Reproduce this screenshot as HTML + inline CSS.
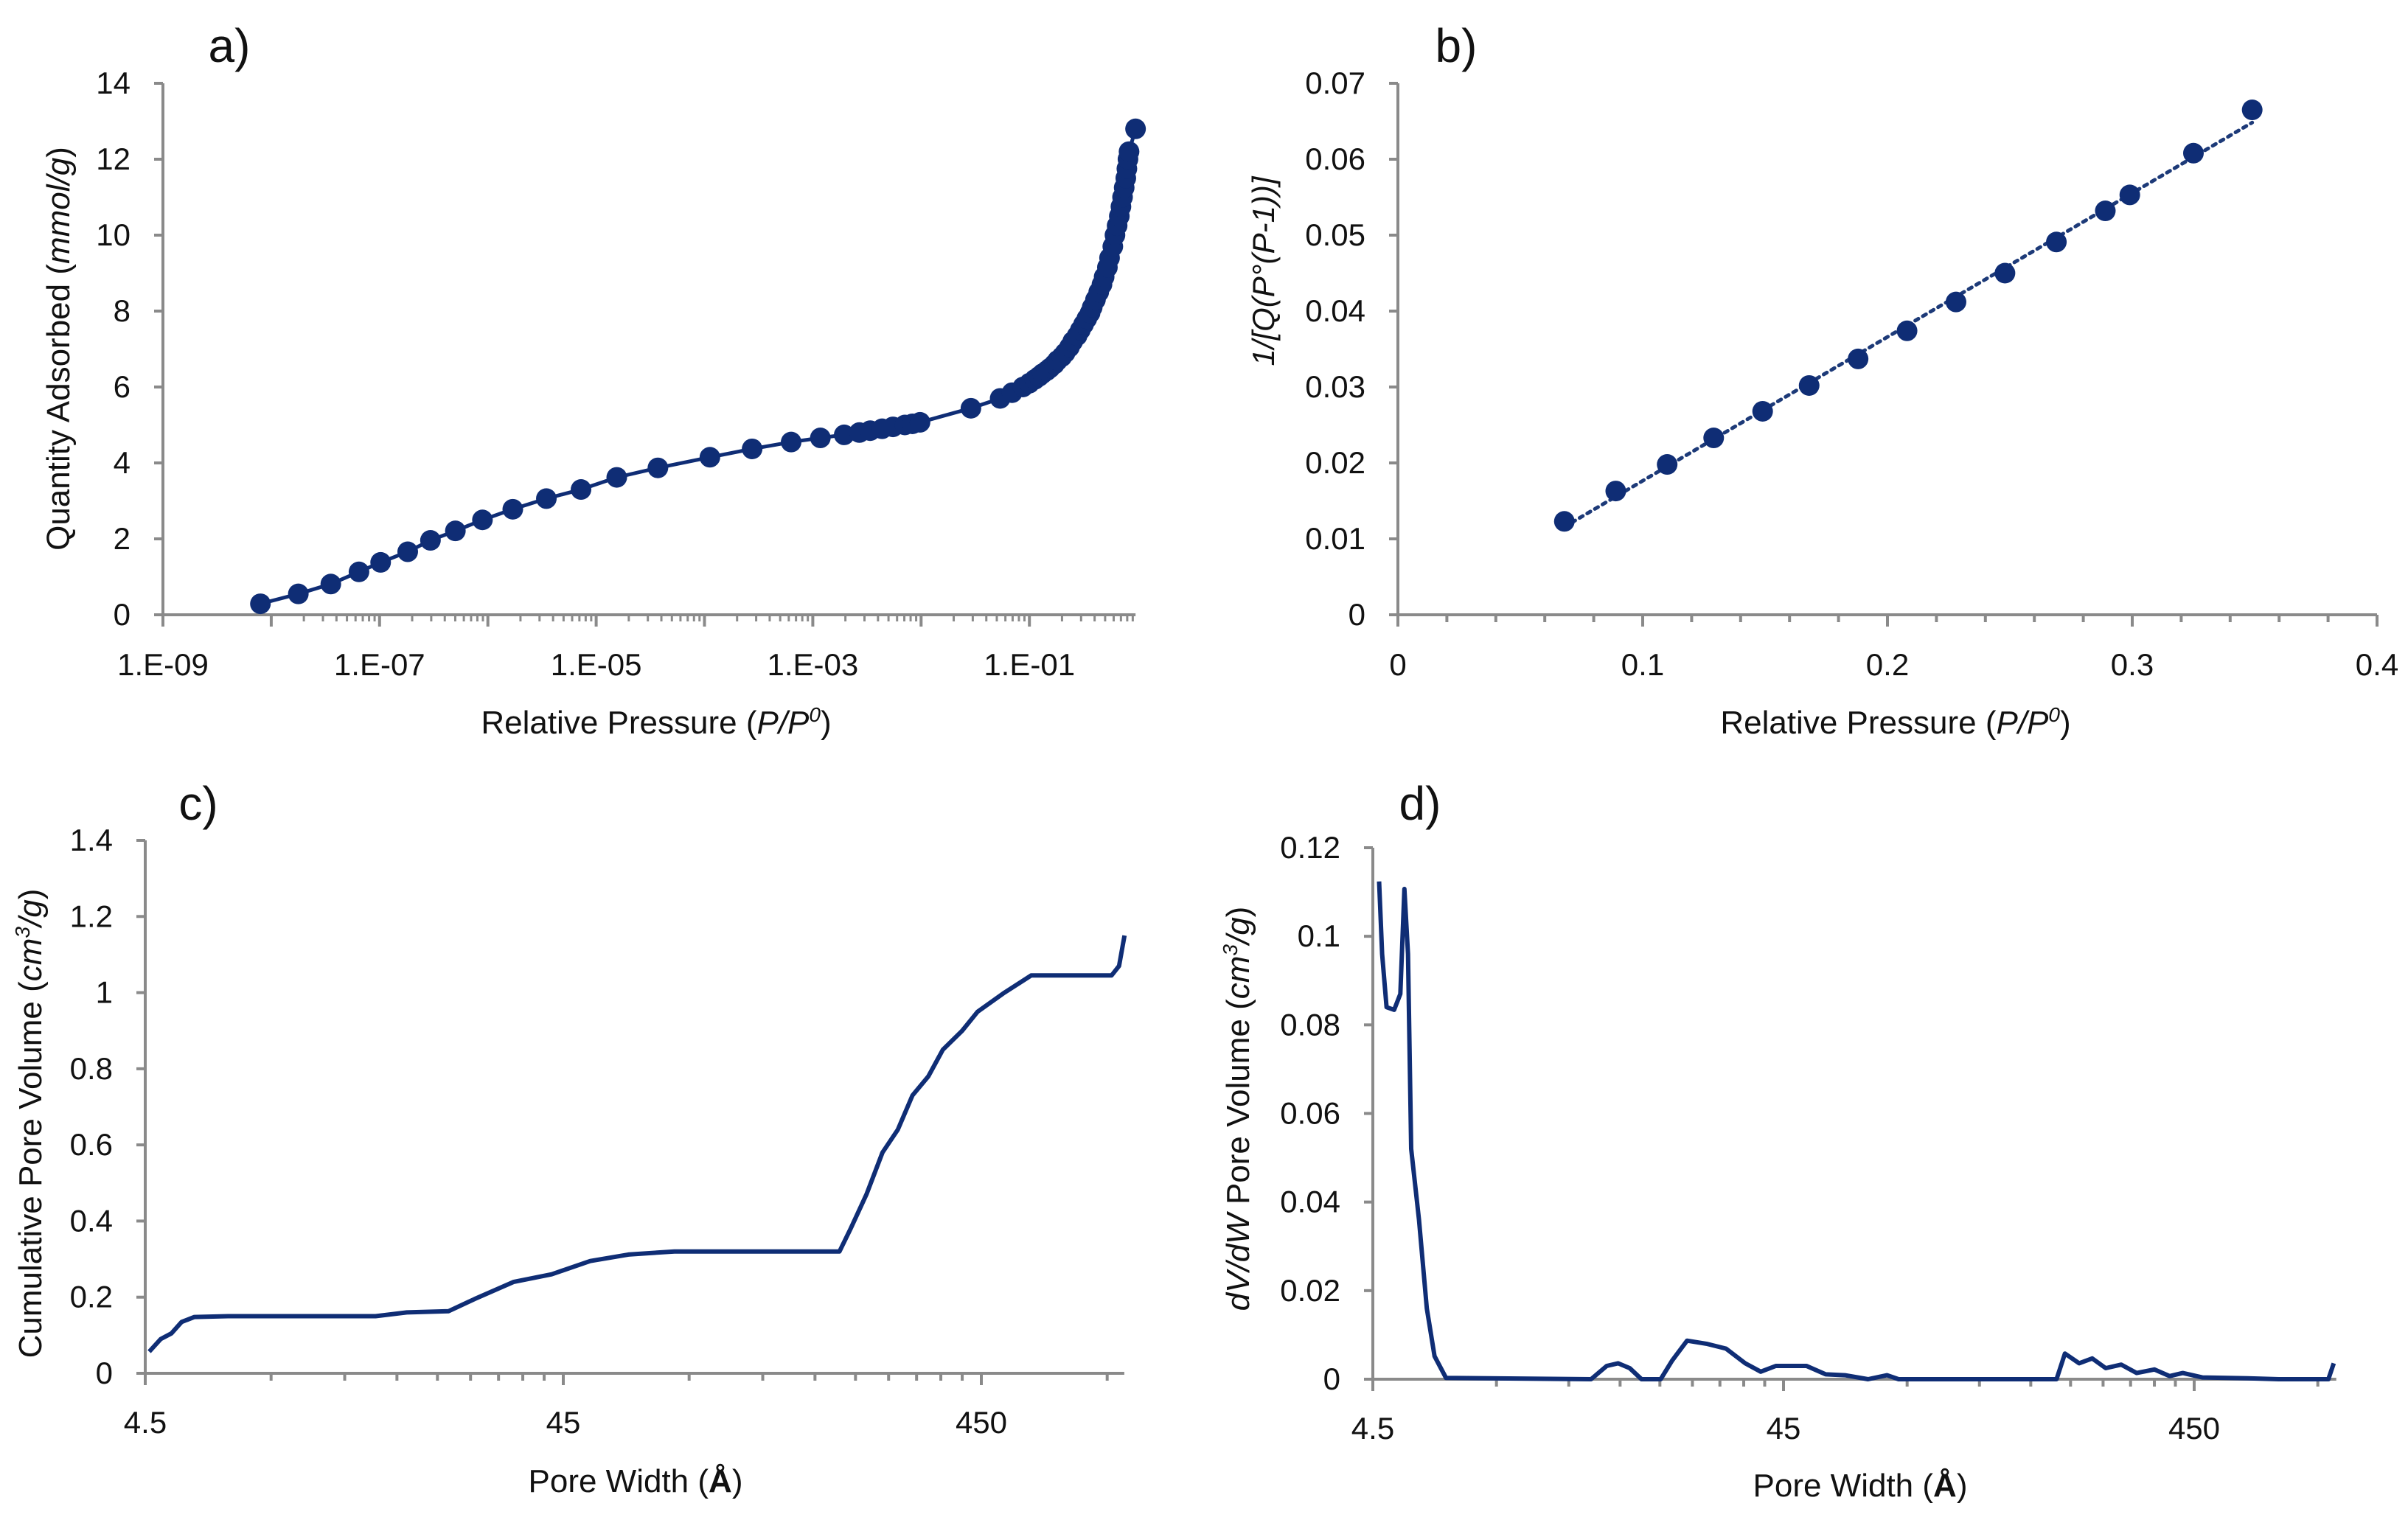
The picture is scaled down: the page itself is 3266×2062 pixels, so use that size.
<!DOCTYPE html>
<html><head><meta charset="utf-8">
<style>
html,body{margin:0;padding:0;background:#fff;}
svg{display:block;font-family:"Liberation Sans",sans-serif;}
</style></head>
<body>
<svg id="fig" width="3266" height="2062" viewBox="0 0 3266 2062" xmlns="http://www.w3.org/2000/svg">
<rect width="3266" height="2062" fill="#fff"/>
</svg>
<script>
// Panel a: isotherm (log10 relative pressure, mmol/g)
const aLogP = [-8.10,-7.75,-7.45,-7.19,-6.99,-6.74,-6.53,-6.30,-6.05,-5.77,-5.46,-5.14,-4.81,-4.43,-3.95,-3.56,-3.20,-2.93,-2.71,-2.57,-2.47,-2.36,-2.26,-2.15,-2.08,-2.01,-1.54,-1.27,-1.16,-1.06,-1.00,-0.95,-0.91,-0.88,-0.84,-0.81,-0.77,-0.74,-0.70,-0.67,-0.63,-0.60,-0.56,-0.53,-0.50,-0.47,-0.44,-0.42,-0.39,-0.36,-0.33,-0.31,-0.28,-0.26,-0.23,-0.21,-0.19,-0.17,-0.155,-0.14,-0.125,-0.11,-0.10,-0.09,-0.08,-0.02];
const aQ    = [0.29,0.55,0.81,1.13,1.38,1.66,1.96,2.21,2.50,2.78,3.06,3.30,3.62,3.87,4.15,4.37,4.55,4.66,4.74,4.80,4.85,4.90,4.95,5.00,5.03,5.07,5.44,5.70,5.85,6.00,6.10,6.20,6.28,6.35,6.43,6.50,6.60,6.70,6.80,6.90,7.05,7.20,7.35,7.50,7.65,7.80,7.95,8.10,8.30,8.50,8.70,8.90,9.15,9.40,9.70,10.0,10.25,10.5,10.75,11.0,11.25,11.5,11.75,12.0,12.2,12.8];
const aYTicks = [0,2,4,6,8,10,12,14];
const aXTicks = ["1.E-09","1.E-07","1.E-05","1.E-03","1.E-01"];
// Panel b: BET plot
const bP = [0.068,0.089,0.110,0.129,0.149,0.168,0.188,0.208,0.228,0.248,0.269,0.289,0.299,0.325,0.349];
const bV = [0.0123,0.0163,0.0198,0.0233,0.0268,0.0302,0.0337,0.0374,0.0412,0.0450,0.0491,0.0532,0.0553,0.0608,0.0665];
const bYTicks = ["0","0.01","0.02","0.03","0.04","0.05","0.06","0.07"];
const bXTicks = ["0","0.1","0.2","0.3","0.4"];
// Panel c: cumulative pore volume
const cW = [4.6,4.9,5.2,5.5,5.9,7.1,16.0,19.0,23.9,27.6,34.2,42.2,52.2,64.4,83.0,206,219,239,261,284,308,336,364,405,441,511,592,922,961,990];
const cV = [0.057,0.09,0.105,0.135,0.148,0.15,0.15,0.16,0.163,0.195,0.24,0.26,0.295,0.312,0.32,0.32,0.38,0.47,0.58,0.64,0.73,0.78,0.85,0.90,0.95,1.0,1.045,1.045,1.07,1.15];
const cYTicks = ["0","0.2","0.4","0.6","0.8","1","1.2","1.4"];
const cXTicks = ["4.5","45","450"];
// Panel d: dV/dW
const dW = [4.66,4.74,4.86,5.07,5.25,5.37,5.48,5.58,5.83,6.09,6.36,6.78,15.3,16.7,17.8,19.0,20.3,22.6,24.1,26.2,29.2,32.6,36.3,39.6,43.1,51.2,57.0,63.5,72.3,80.4,85.8,208,218,236,254,274,299,326,360,392,422,471,608,723,955,984];
const dV = [0.1124,0.096,0.084,0.0834,0.087,0.1107,0.096,0.052,0.036,0.016,0.0052,0.0003,0,0.003,0.0036,0.0025,0,0,0.0042,0.0087,0.008,0.0069,0.0036,0.0017,0.003,0.003,0.0011,0.0009,0,0.0009,0,0,0.0058,0.0036,0.0047,0.0025,0.0033,0.0014,0.0022,0.0007,0.0014,0.0004,0.0002,0,0,0.0036];
const dYTicks = ["0","0.02","0.04","0.06","0.08","0.1","0.12"];
const dXTicks = ["4.5","45","450"];

const NS="http://www.w3.org/2000/svg";
const svg=document.getElementById('fig');
const AX="#8a8a8a", NAVY="#0f2d75";
function mk(tag,attrs,parent){const e=document.createElementNS(NS,tag);for(const k in attrs)e.setAttribute(k,attrs[k]);(parent||svg).appendChild(e);return e;}
function txt(s,x,y,size,anchor,parent,extra){const t=mk('text',Object.assign({x:x,y:y,'font-size':size,'text-anchor':anchor||'middle',fill:'#111'},extra||{}),parent);t.textContent=s;return t;}
function group(name){const g=mk('g',{});return g;}

// ---------- Panel a ----------
(function(){
  const g=group('panel-a-isotherm');
  const L=221,T=113,B=834,dec=146.9,R=L+8.98*dec;
  const X=v=>L+(v+9)*dec, Y=v=>B-(v/14)*(B-T);
  const ax=mk('path',{d:`M${L},${T} V${B} H${R}`,stroke:AX,'stroke-width':4,fill:'none'},g);
  
  aYTicks.forEach(v=>{mk('line',{x1:L-12,x2:L,y1:Y(v),y2:Y(v),stroke:AX,'stroke-width':4},g);
    const t=txt(String(v),L-44,Y(v)+14,42,'end',g);});
  for(let d=-9;d<=0;d++){if(X(d)<=R+1)mk('line',{x1:X(d),x2:X(d),y1:B,y2:B+16,stroke:AX,'stroke-width':4},g);
    if(d>-9&&d<0)for(let k=2;k<=9;k++){const xx=X(d+Math.log10(k));if(xx<R)mk('line',{x1:xx,x2:xx,y1:B,y2:B+9,stroke:AX,'stroke-width':3},g);}}
  mk('line',{x1:X(-8),x2:X(-8),y1:B,y2:B+9,stroke:AX,'stroke-width':3},g);
  aXTicks.forEach((s,i)=>{const t=txt(s,X(-9+2*i),916,42,'middle',g);});
  let d='';aLogP.forEach((v,i)=>{d+=(i?'L':'M')+X(v).toFixed(1)+','+Y(aQ[i]).toFixed(1);});
  const ln=mk('path',{d:d,stroke:NAVY,'stroke-width':5,fill:'none'},g);
  aLogP.forEach((v,i)=>{const c=mk('circle',{cx:X(v),cy:Y(aQ[i]),r:14,fill:NAVY},g);});
  const yt=txt('',0,0,44,'middle',g,{transform:`translate(94,473) rotate(-90)`});
  yt.innerHTML='Quantity Adsorbed (<tspan font-style="italic">mmol/g</tspan>)';
  const xt=txt('',890,995,44,'middle',g);
  xt.innerHTML='Relative Pressure (<tspan font-style="italic">P/P</tspan><tspan font-style="italic" font-size="28" dy="-16">0</tspan><tspan dy="16">)</tspan>';
  const lb=txt('a)',311,84,64,'middle',g);
})();

// ---------- Panel b ----------
(function(){
  const g=group('panel-b-bet');
  const L=1896,R=3224,T=113,B=834;
  const X=v=>L+(v/0.4)*(R-L), Y=v=>B-(v/0.07)*(B-T);
  const ax=mk('path',{d:`M${L},${T} V${B} H${R}`,stroke:AX,'stroke-width':4,fill:'none'},g);
  
  bYTicks.forEach((s,i)=>{const v=i*0.01;mk('line',{x1:L-12,x2:L,y1:Y(v),y2:Y(v),stroke:AX,'stroke-width':4},g);
    const t=txt(s,L-44,Y(v)+14,42,'end',g);});
  for(let i=0;i<=20;i++){const xx=X(i*0.02);mk('line',{x1:xx,x2:xx,y1:B,y2:B+(i%5?10:16),stroke:AX,'stroke-width':4},g);}
  bXTicks.forEach((s,i)=>{const t=txt(s,X(i*0.1),916,42,'middle',g);});
  const n=bP.length;let sx=0,sy=0,sxx=0,sxy=0;for(let i=0;i<n;i++){sx+=bP[i];sy+=bV[i];sxx+=bP[i]*bP[i];sxy+=bP[i]*bV[i];}
  const m=(n*sxy-sx*sy)/(n*sxx-sx*sx),b0=(sy-m*sx)/n;
  const x1=bP[0],x2=bP[n-1];
  const tl=mk('line',{x1:X(x1),y1:Y(m*x1+b0),x2:X(x2),y2:Y(m*x2+b0),stroke:'#1d3a78','stroke-width':5,'stroke-dasharray':'5 7','stroke-linecap':'round'},g);
  
  bP.forEach((v,i)=>{const c=mk('circle',{cx:X(v),cy:Y(bV[i]),r:14,fill:NAVY},g);});
  const yt=txt('',0,0,42,'middle',g,{transform:`translate(1728,368) rotate(-90)`,'font-style':'italic'});
  yt.textContent='1/[Q(P°(P-1))]';
  const xt=txt('',2571,995,44,'middle',g);
  xt.innerHTML='Relative Pressure (<tspan font-style="italic">P/P</tspan><tspan font-style="italic" font-size="28" dy="-16">0</tspan><tspan dy="16">)</tspan>';
  const lb=txt('b)',1975,84,64,'middle',g);
})();

function poreAxis(g,L,dec,umax,T,B){
  const X=w=>L+Math.log10(w/4.5)*dec;const R=L+umax*dec;
  const ax=mk('path',{d:`M${L},${T} V${B} H${R}`,stroke:AX,'stroke-width':4,fill:'none'},g);
  
  [4.5,45,450].forEach(base=>{for(let k=1;k<=9;k++){const w=base*k;const xx=X(w);if(xx<=R+1)mk('line',{x1:xx,x2:xx,y1:B,y2:B+(k==1?16:10),stroke:AX,'stroke-width':4},g);}});
  return X;
}
// ---------- Panel c ----------
(function(){
  const g=group('panel-c-cumulative');
  const L=197,dec=567,T=1140,B=1863;
  const Y=v=>B-(v/1.4)*(B-T);
  const X=poreAxis(g,L,dec,2.342,T,B);
  cYTicks.forEach((s,i)=>{const v=i*0.2;mk('line',{x1:L-12,x2:L,y1:Y(v),y2:Y(v),stroke:AX,'stroke-width':4},g);
    const t=txt(s,L-44,Y(v)+14,42,'end',g);});
  cXTicks.forEach(s=>{const t=txt(s,X(parseFloat(s)),1944,42,'middle',g);});
  let d='';cW.forEach((w,i)=>{d+=(i?'L':'M')+X(w).toFixed(1)+','+Y(cV[i]).toFixed(1);});
  const ln=mk('path',{d:d,stroke:NAVY,'stroke-width':6,fill:'none','stroke-linejoin':'round'},g);
  const yt=txt('',0,0,44,'middle',g,{transform:`translate(56,1524) rotate(-90)`});
  yt.innerHTML='Cumulative Pore Volume (<tspan font-style="italic">cm</tspan><tspan font-style="italic" font-size="28" dy="-16">3</tspan><tspan font-style="italic" dy="16">/g</tspan>)';
  const xt=txt('',862,2024,44,'middle',g);
  xt.innerHTML='Pore Width (<tspan font-weight="bold">Å</tspan>)';
  const lb=txt('c)',269,1112,64,'middle',g);
})();

// ---------- Panel d ----------
(function(){
  const g=group('panel-d-distribution');
  const L=1862,dec=557,T=1150,B=1871;
  const Y=v=>B-(v/0.12)*(B-T);
  const X=poreAxis(g,L,dec,2.346,T,B);
  dYTicks.forEach((s,i)=>{const v=i*0.02;mk('line',{x1:L-12,x2:L,y1:Y(v),y2:Y(v),stroke:AX,'stroke-width':4},g);
    const t=txt(s,L-44,Y(v)+14,42,'end',g);});
  dXTicks.forEach(s=>{const t=txt(s,X(parseFloat(s)),1952,42,'middle',g);});
  let d='';dW.forEach((w,i)=>{d+=(i?'L':'M')+X(w).toFixed(1)+','+Y(dV[i]).toFixed(1);});
  const ln=mk('path',{d:d,stroke:NAVY,'stroke-width':6,fill:'none','stroke-linejoin':'round'},g);
  const yt=txt('',0,0,44,'middle',g,{transform:`translate(1694,1504) rotate(-90)`});
  yt.innerHTML='<tspan font-style="italic">dV/dW</tspan>  Pore Volume (<tspan font-style="italic">cm</tspan><tspan font-style="italic" font-size="28" dy="-16">3</tspan><tspan font-style="italic" dy="16">/g</tspan>)';
  const xt=txt('',2523,2030,44,'middle',g);
  xt.innerHTML='Pore Width (<tspan font-weight="bold">Å</tspan>)';
  const lb=txt('d)',1926,1112,64,'middle',g);
})();
</script>
</body></html>
